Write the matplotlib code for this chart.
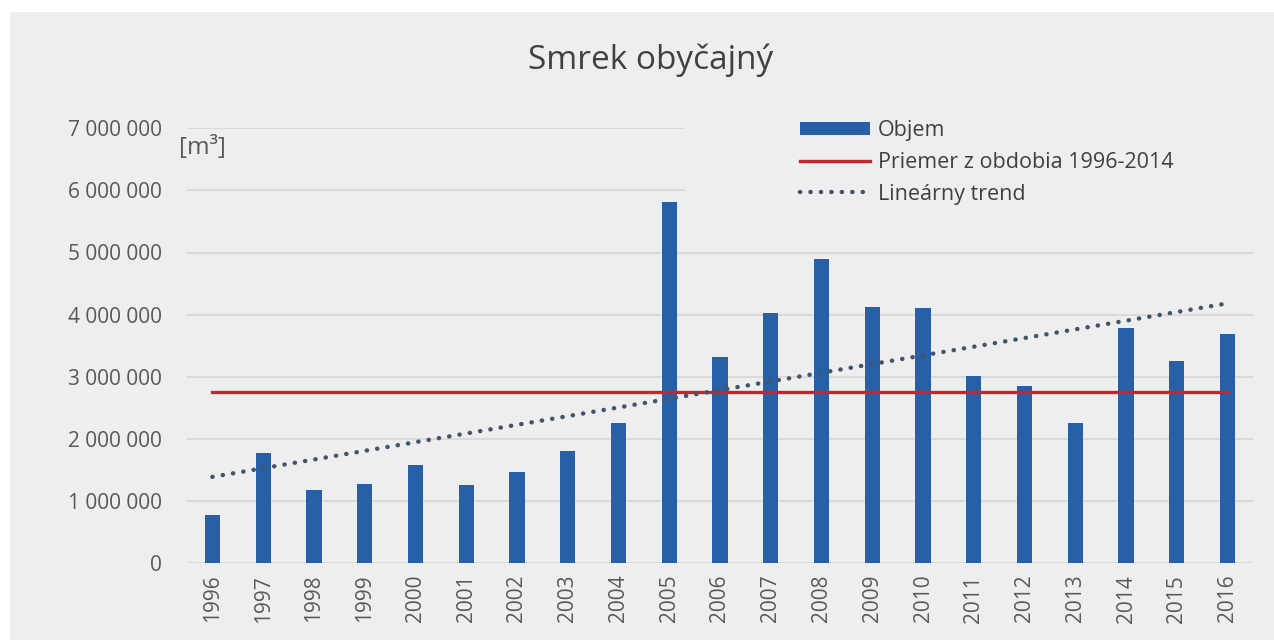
import numpy as np
import matplotlib
matplotlib.use("Agg")
import matplotlib.pyplot as plt
from matplotlib.patches import Rectangle
from matplotlib.ticker import FuncFormatter

plt.rcParams["font.family"] = ["Open Sans", "DejaVu Sans"]

# Harvest volume of Norway spruce per year [m3]
years = [1996, 1997, 1998, 1999, 2000, 2001, 2002, 2003, 2004, 2005, 2006,
         2007, 2008, 2009, 2010, 2011, 2012, 2013, 2014, 2015, 2016]
volume = [770_000, 1_770_000, 1_180_000, 1_280_000, 1_580_000, 1_250_000,
          1_470_000, 1_800_000, 2_250_000, 5_820_000, 3_310_000, 4_030_000,
          4_900_000, 4_120_000, 4_100_000, 3_010_000, 2_850_000, 2_250_000,
          3_790_000, 3_250_000, 3_690_000]
# Average for the reference period 1996-2014
avg_1996_2014 = 2_750_000

title = "Smrek obyčajný"
series_labels = ["Objem", "Priemer z obdobia 1996-2014", "Lineárny trend"]
y_ticks = [0, 1_000_000, 2_000_000, 3_000_000, 4_000_000, 5_000_000,
           6_000_000, 7_000_000]

BAR = "#2860A8"
RED = "#C0282D"
TREND = "#44546A"
PANEL = "#EEEEEE"
GRID = "#D4D4D4"
TEXT = "#404040"
TICK = "#595959"

W, H = 1274, 640
fig = plt.figure(figsize=(W / 100, H / 100), dpi=100, facecolor="white")

# grey chart area with a thin white margin on the top and left
fig.patches.append(Rectangle((10 / W, 0), 1 - 10 / W, 1 - 12 / H,
                             transform=fig.transFigure, facecolor=PANEL,
                             edgecolor="none", zorder=-10))

ax_l, ax_r, ax_b, ax_t = 187, 1253, 563, 128.3
ax = fig.add_axes([ax_l / W, 1 - ax_b / H, (ax_r - ax_l) / W, (ax_b - ax_t) / H])
ax.set_facecolor("none")

x = np.arange(len(years))
bars = ax.bar(x, volume, width=0.3, color=BAR, zorder=3, label=series_labels[0])

avg_line, = ax.plot([x[0], x[-1]], [avg_1996_2014] * 2, color=RED, lw=2.4,
                    zorder=4, label=series_labels[1])

coef = np.polyfit(x, volume, 1)
trend_y = np.polyval(coef, x)
trend_line, = ax.plot(x, trend_y, color=TREND, lw=3.2,
                      linestyle=(0, (0.05, 2.3)), dash_capstyle="round",
                      zorder=5, label=series_labels[2])

ax.set_xlim(-0.5, len(years) - 0.5)
ax.set_ylim(0, 7_000_000)
ax.set_yticks(y_ticks)
ax.yaxis.set_major_formatter(FuncFormatter(lambda v, p: f"{int(v):,}".replace(",", " ")))
ax.set_xticks(x)
ax.set_xticklabels([str(y) for y in years], rotation=90)

ax.grid(axis="y", color=GRID, lw=1.1, zorder=0)
ax.set_axisbelow(True)
for s in ax.spines.values():
    s.set_visible(False)
ax.tick_params(axis="both", length=0, colors=TICK, labelsize=15)
ax.tick_params(axis="y", pad=18)
ax.tick_params(axis="x", pad=8.5)

# background block behind the legend hides the gridlines there
ax.add_patch(Rectangle(((685 - ax_l) / (ax_r - ax_l), (ax_b - 228) / (ax_b - ax_t)),
                       1.0, 0.3, transform=ax.transAxes, facecolor=PANEL,
                       edgecolor="none", zorder=1, clip_on=False))

leg = ax.legend(handles=[bars, avg_line, trend_line], loc="upper left",
                bbox_to_anchor=(800 / W, 1 - 120 / H),
                bbox_transform=fig.transFigure, frameon=False,
                fontsize=15.5, handlelength=3.25, handleheight=0.55,
                handletextpad=0.38, labelspacing=0.5, borderpad=0,
                borderaxespad=0)
for t in leg.get_texts():
    t.set_color(TEXT)

fig.text(651 / W, 1 - 60 / H, title, ha="center", va="center",
         fontsize=24, color=TEXT)
fig.text(179 / W, 1 - 148 / H, "[m³]", ha="left", va="center",
         fontsize=17.5, color=TICK)

fig.savefig("out.png", dpi=100, facecolor=fig.get_facecolor())
